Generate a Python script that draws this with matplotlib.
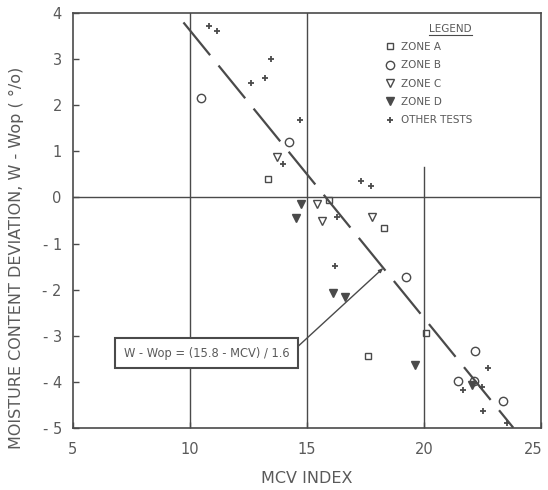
import numpy as np
import matplotlib
matplotlib.use("Agg")
import matplotlib.pyplot as plt
import matplotlib.transforms as mtransforms
from matplotlib.lines import Line2D

# data (MCV index, W - Wop %)
zone_a_x = [13.33, 15.94, 18.29, 17.61, 20.09]
zone_a_y = [0.41, -0.06, -0.66, -3.44, -2.95]

zone_b_x = [10.48, 14.23, 19.20, 22.18, 21.43, 22.11, 23.34]
zone_b_y = [2.16, 1.20, -1.73, -3.33, -3.98, -3.98, -4.41]

zone_c_x = [13.71, 15.44, 15.65, 17.75]
zone_c_y = [0.88, -0.15, -0.51, -0.42]

zone_d_x = [14.73, 14.54, 16.11, 16.60, 19.60, 22.03]
zone_d_y = [-0.15, -0.45, -2.07, -2.17, -3.64, -4.07]

other_x = [10.83, 11.14, 13.44, 13.20, 12.60, 14.69, 13.97, 17.31, 17.71,
           16.26, 16.19, 22.70, 21.65, 22.46, 22.50, 23.54]
other_y = [3.72, 3.61, 3.00, 2.59, 2.48, 1.69, 0.72, 0.36, 0.25,
           -0.42, -1.49, -3.71, -4.18, -4.12, -4.63, -4.89]

# fitted relation W - Wop = (15.8 - MCV) / 1.6
fit_mcv = [9.72, 23.8]
fit_w = [(15.8 - m) / 1.6 for m in fit_mcv]

xticks = [5, 10, 15, 20, 25]
yticks = [4, 3, 2, 1, 0, -1, -2, -3, -4, -5]
ytick_labels = ["4", "3", "2", "1", "0", "- 1", "- 2", "- 3", "- 4", "- 5"]

ink = "#4a4a4a"
txt = "#5a5a5a"

fig = plt.figure(figsize=(5.48, 4.90), dpi=100)
ax = fig.add_axes([0.133, 0.127, 0.855, 0.846])

ax.set_xlim(5, 25)
ax.set_ylim(-5, 4)

# grid lines as in the original
ax.axvline(10, color=ink, lw=1.0)
ax.axvline(15, color=ink, lw=1.0)
ax.plot([20, 20], [-5, 0.66], color=ink, lw=1.0)
ax.axhline(0, color=ink, lw=1.0)

ax.plot(fit_mcv, fit_w, color=ink, lw=1.6, dashes=(19, 6))

ms = 5
ax.plot(zone_a_x, zone_a_y, ls="none", marker="s", ms=4, mfc="none", mec=ink, mew=1.0, label="ZONE A")
ax.plot(zone_b_x, zone_b_y, ls="none", marker="o", ms=ms + 1, mfc="none", mec=ink, mew=1.0, label="ZONE B")
ax.plot(zone_c_x, zone_c_y, ls="none", marker="v", ms=ms + 1, mfc="none", mec=ink, mew=1.0, label="ZONE C")
ax.plot(zone_d_x, zone_d_y, ls="none", marker="v", ms=ms + 1, mfc=ink, mec=ink, mew=1.0, label="ZONE D")
ax.plot(other_x, other_y, ls="none", marker="+", ms=ms, mec=ink, mew=1.3, label="OTHER TESTS")

ax.annotate("W - Wop = (15.8 - MCV) / 1.6",
            xy=(18.25, (15.8 - 18.25) / 1.6), xytext=(10.7, -3.38),
            fontsize=8.3, color=txt, ha="center", va="center",
            bbox=dict(boxstyle="square,pad=0.75", fc="white", ec=ink, lw=1.5),
            arrowprops=dict(arrowstyle="-|>,head_length=0.3,head_width=0.12",
                            color=ink, lw=1.0, relpos=(1.0, 0.4),
                            shrinkA=0, shrinkB=0))

leg = ax.legend(loc="upper left", bbox_to_anchor=(0.655, 0.985), frameon=False,
                title="LEGEND", fontsize=7.5, title_fontsize=7.5,
                labelspacing=0.8, handletextpad=0.4, handlelength=1.2,
                borderaxespad=0)
for t in leg.get_texts():
    t.set_color(txt)
leg.get_title().set_color(txt)
leg._legend_box.align = "right"

ax.set_xticks(xticks)
ax.set_yticks(yticks)
ax.set_yticklabels(ytick_labels)
ax.tick_params(axis="both", direction="in", length=4, width=1.0, colors=ink,
               labelcolor=txt, labelsize=10.5)
ax.tick_params(axis="x", pad=10)
ax.tick_params(axis="y", pad=8)

# keep the last x label inside the picture
last = ax.get_xticklabels()[-1]
last.set_transform(last.get_transform() +
                   mtransforms.ScaledTranslation(-6 / 72, 0, fig.dpi_scale_trans))

for s in ax.spines.values():
    s.set_color(ink)
    s.set_linewidth(1.2)

ax.set_xlabel("MCV INDEX", fontsize=11.5, color=txt, labelpad=10)
ax.set_ylabel("MOISTURE CONTENT DEVIATION, W - Wop ( °/o)", fontsize=11.5,
              color=txt)
ax.yaxis.set_label_coords(-0.105, 0.41)

# underline the legend title
fig.canvas.draw()
bb = leg.get_title().get_window_extent().transformed(fig.transFigure.inverted())
fig.add_artist(Line2D([bb.x0, bb.x1], [bb.y0 - 0.002, bb.y0 - 0.002],
                      transform=fig.transFigure, color=ink, lw=0.8))

fig.savefig("out.png", dpi=100)
